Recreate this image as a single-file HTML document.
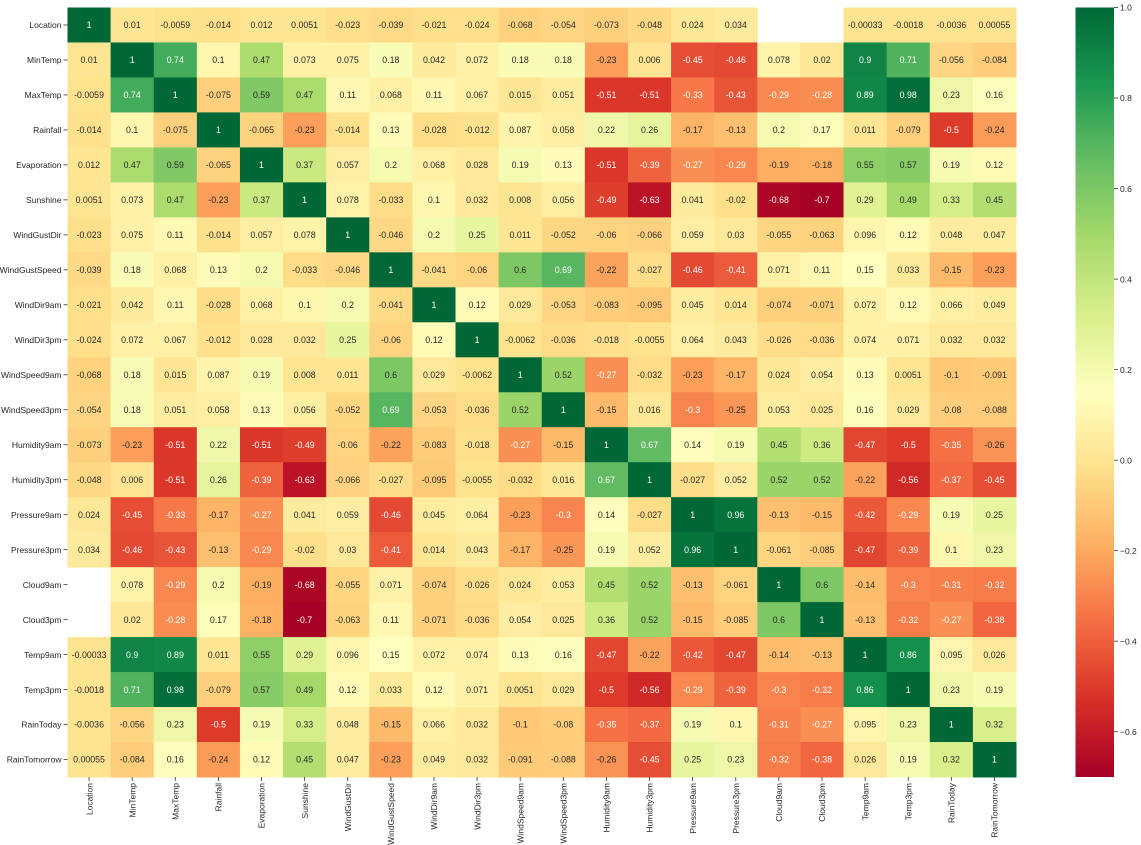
<!DOCTYPE html>
<html><head><meta charset="utf-8"><style>
html,body{margin:0;padding:0;background:#fff;}
svg{display:block;font-family:"Liberation Sans","DejaVu Sans",sans-serif;}
</style></head><body>
<svg id="chart" width="1141" height="845" viewBox="0 0 1141 845" xmlns="http://www.w3.org/2000/svg">
<defs><linearGradient id="cbg" x1="0" y1="1" x2="0" y2="0"></linearGradient></defs>
</svg>
<script>
const labels=["Location","MinTemp","MaxTemp","Rainfall","Evaporation","Sunshine","WindGustDir","WindGustSpeed","WindDir9am","WindDir3pm","WindSpeed9am","WindSpeed3pm","Humidity9am","Humidity3pm","Pressure9am","Pressure3pm","Cloud9am","Cloud3pm","Temp9am","Temp3pm","RainToday","RainTomorrow"];
const r0=["1","0.01","-0.0059","-0.014","0.012","0.0051","-0.023","-0.039","-0.021","-0.024","-0.068","-0.054","-0.073","-0.048","0.024","0.034","","","-0.00033","-0.0018","-0.0036","0.00055"];
const r1=["0.01","1","0.74","0.1","0.47","0.073","0.075","0.18","0.042","0.072","0.18","0.18","-0.23","0.006","-0.45","-0.46","0.078","0.02","0.9","0.71","-0.056","-0.084"];
const r2=["-0.0059","0.74","1","-0.075","0.59","0.47","0.11","0.068","0.11","0.067","0.015","0.051","-0.51","-0.51","-0.33","-0.43","-0.29","-0.28","0.89","0.98","0.23","0.16"];
const r3=["-0.014","0.1","-0.075","1","-0.065","-0.23","-0.014","0.13","-0.028","-0.012","0.087","0.058","0.22","0.26","-0.17","-0.13","0.2","0.17","0.011","-0.079","-0.5","-0.24"];
const r4=["0.012","0.47","0.59","-0.065","1","0.37","0.057","0.2","0.068","0.028","0.19","0.13","-0.51","-0.39","-0.27","-0.29","-0.19","-0.18","0.55","0.57","0.19","0.12"];
const r5=["0.0051","0.073","0.47","-0.23","0.37","1","0.078","-0.033","0.1","0.032","0.008","0.056","-0.49","-0.63","0.041","-0.02","-0.68","-0.7","0.29","0.49","0.33","0.45"];
const r6=["-0.023","0.075","0.11","-0.014","0.057","0.078","1","-0.046","0.2","0.25","0.011","-0.052","-0.06","-0.066","0.059","0.03","-0.055","-0.063","0.096","0.12","0.048","0.047"];
const r7=["-0.039","0.18","0.068","0.13","0.2","-0.033","-0.046","1","-0.041","-0.06","0.6","0.69","-0.22","-0.027","-0.46","-0.41","0.071","0.11","0.15","0.033","-0.15","-0.23"];
const r8=["-0.021","0.042","0.11","-0.028","0.068","0.1","0.2","-0.041","1","0.12","0.029","-0.053","-0.083","-0.095","0.045","0.014","-0.074","-0.071","0.072","0.12","0.066","0.049"];
const r9=["-0.024","0.072","0.067","-0.012","0.028","0.032","0.25","-0.06","0.12","1","-0.0062","-0.036","-0.018","-0.0055","0.064","0.043","-0.026","-0.036","0.074","0.071","0.032","0.032"];
const r10=["-0.068","0.18","0.015","0.087","0.19","0.008","0.011","0.6","0.029","-0.0062","1","0.52","-0.27","-0.032","-0.23","-0.17","0.024","0.054","0.13","0.0051","-0.1","-0.091"];
const r11=["-0.054","0.18","0.051","0.058","0.13","0.056","-0.052","0.69","-0.053","-0.036","0.52","1","-0.15","0.016","-0.3","-0.25","0.053","0.025","0.16","0.029","-0.08","-0.088"];
const r12=["-0.073","-0.23","-0.51","0.22","-0.51","-0.49","-0.06","-0.22","-0.083","-0.018","-0.27","-0.15","1","0.67","0.14","0.19","0.45","0.36","-0.47","-0.5","-0.35","-0.26"];
const r13=["-0.048","0.006","-0.51","0.26","-0.39","-0.63","-0.066","-0.027","-0.095","-0.0055","-0.032","0.016","0.67","1","-0.027","0.052","0.52","0.52","-0.22","-0.56","-0.37","-0.45"];
const r14=["0.024","-0.45","-0.33","-0.17","-0.27","0.041","0.059","-0.46","0.045","0.064","-0.23","-0.3","0.14","-0.027","1","0.96","-0.13","-0.15","-0.42","-0.29","0.19","0.25"];
const r15=["0.034","-0.46","-0.43","-0.13","-0.29","-0.02","0.03","-0.41","0.014","0.043","-0.17","-0.25","0.19","0.052","0.96","1","-0.061","-0.085","-0.47","-0.39","0.1","0.23"];
const r16=["","0.078","-0.29","0.2","-0.19","-0.68","-0.055","0.071","-0.074","-0.026","0.024","0.053","0.45","0.52","-0.13","-0.061","1","0.6","-0.14","-0.3","-0.31","-0.32"];
const r17=["","0.02","-0.28","0.17","-0.18","-0.7","-0.063","0.11","-0.071","-0.036","0.054","0.025","0.36","0.52","-0.15","-0.085","0.6","1","-0.13","-0.32","-0.27","-0.38"];
const r18=["-0.00033","0.9","0.89","0.011","0.55","0.29","0.096","0.15","0.072","0.074","0.13","0.16","-0.47","-0.22","-0.42","-0.47","-0.14","-0.13","1","0.86","0.095","0.026"];
const r19=["-0.0018","0.71","0.98","-0.079","0.57","0.49","0.12","0.033","0.12","0.071","0.0051","0.029","-0.5","-0.56","-0.29","-0.39","-0.3","-0.32","0.86","1","0.23","0.19"];
const r20=["-0.0036","-0.056","0.23","-0.5","0.19","0.33","0.048","-0.15","0.066","0.032","-0.1","-0.08","-0.35","-0.37","0.19","0.1","-0.31","-0.27","0.095","0.23","1","0.32"];
const r21=["0.00055","-0.084","0.16","-0.24","0.12","0.45","0.047","-0.23","0.049","0.032","-0.091","-0.088","-0.26","-0.45","0.25","0.23","-0.32","-0.38","0.026","0.19","0.32","1"];
const matrix=[r0,r1,r2,r3,r4,r5,r6,r7,r8,r9,r10,r11,r12,r13,r14,r15,r16,r17,r18,r19,r20,r21];
const cbTicks=[1.0,0.8,0.6,0.4,0.2,0.0,-0.2,-0.4,-0.6];
const cbTickLabels=["1.0","0.8","0.6","0.4","0.2","0.0","\u22120.2","\u22120.4","\u22120.6"];
const vmin=-0.7,vmax=1.0;

const NS="http://www.w3.org/2000/svg";
const svg=document.getElementById('chart');
const X0=67.5,Y0=7.5,W=948.5,H=769.5,n=labels.length,cw=W/n,ch=H/n;
const xs=i=>X0+i*cw, ys=j=>Y0+j*ch;
const stops=["#a50026","#d73027","#f46d43","#fdae61","#fee08b","#ffffbf","#d9ef8b","#a6d96a","#66bd63","#1a9850","#006837"].map(h=>[parseInt(h.substr(1,2),16),parseInt(h.substr(3,2),16),parseInt(h.substr(5,2),16)]);
function cmap(v){let t=(v-vmin)/(vmax-vmin);t=Math.max(0,Math.min(1,t));const p=t*(stops.length-1);const i=Math.min(stops.length-2,Math.floor(p));const f=p-i;return stops[i].map((c,k)=>Math.round(c+(stops[i+1][k]-c)*f));}
function lum(c){const l=c.map(x=>{x/=255;return x<=0.03928?x/12.92:Math.pow((x+0.055)/1.055,2.4);});return 0.2126*l[0]+0.7152*l[1]+0.0722*l[2];}
function mk(tag,attrs){const e=document.createElementNS(NS,tag);for(const k in attrs)e.setAttribute(k,attrs[k]);svg.appendChild(e);return e;}

for(let j=0;j<n;j++){for(let i=0;i<n;i++){
  const s=matrix[j][i]; if(s==="")continue;
  const v=parseFloat(s); const c=cmap(v);
  const r=mk('rect',{x:xs(i),y:ys(j),width:cw+0.5,height:ch+0.5,fill:`rgb(${c})`});
  
  
  const t=mk('text',{x:xs(i)+cw/2,y:ys(j)+ch/2+3.2,'text-anchor':'middle','font-size':'8.8',fill:lum(c)>0.408?'#262626':'#ffffff'});
  t.textContent=s;
  
  
}}
for(let j=0;j<n;j++){
  mk('line',{x1:X0-4,x2:X0,y1:ys(j)+ch/2,y2:ys(j)+ch/2,stroke:'#333','stroke-width':0.8});
  const t=mk('text',{x:X0-6,y:ys(j)+ch/2+3.2,'text-anchor':'end','font-size':'8.5',fill:'#262626'});
  t.textContent=labels[j];
  
  
}
for(let i=0;i<n;i++){
  const cx=xs(i)+cw/2;
  mk('line',{x1:cx,x2:cx,y1:Y0+H,y2:Y0+H+4,stroke:'#333','stroke-width':0.8});
  const t=mk('text',{x:0,y:0,'text-anchor':'end','font-size':'8.5',fill:'#262626',transform:`translate(${cx+3.2},${Y0+H+6}) rotate(-90)`});
  t.textContent=labels[i];
  
  
}
const grad=document.getElementById('cbg');
for(let k=0;k<=20;k++){const v=vmin+(vmax-vmin)*k/20;const s=document.createElementNS(NS,'stop');s.setAttribute('offset',k/20);s.setAttribute('stop-color',`rgb(${cmap(v)})`);grad.appendChild(s);}
const CBX=1075.5,CBW=38.5;
const cy=v=>Y0+(vmax-v)/(vmax-vmin)*H;
const cb=mk('rect',{x:CBX,y:Y0,width:CBW,height:H,fill:'url(#cbg)'});


cbTicks.forEach((v,k)=>{
  mk('line',{x1:CBX+CBW,x2:CBX+CBW+4,y1:cy(v),y2:cy(v),stroke:'#333','stroke-width':0.8});
  const t=mk('text',{x:CBX+CBW+6,y:cy(v)+3.2,'font-size':'8.5',fill:'#262626'});
  t.textContent=cbTickLabels[k];
  
  
});
</script>
</body></html>
